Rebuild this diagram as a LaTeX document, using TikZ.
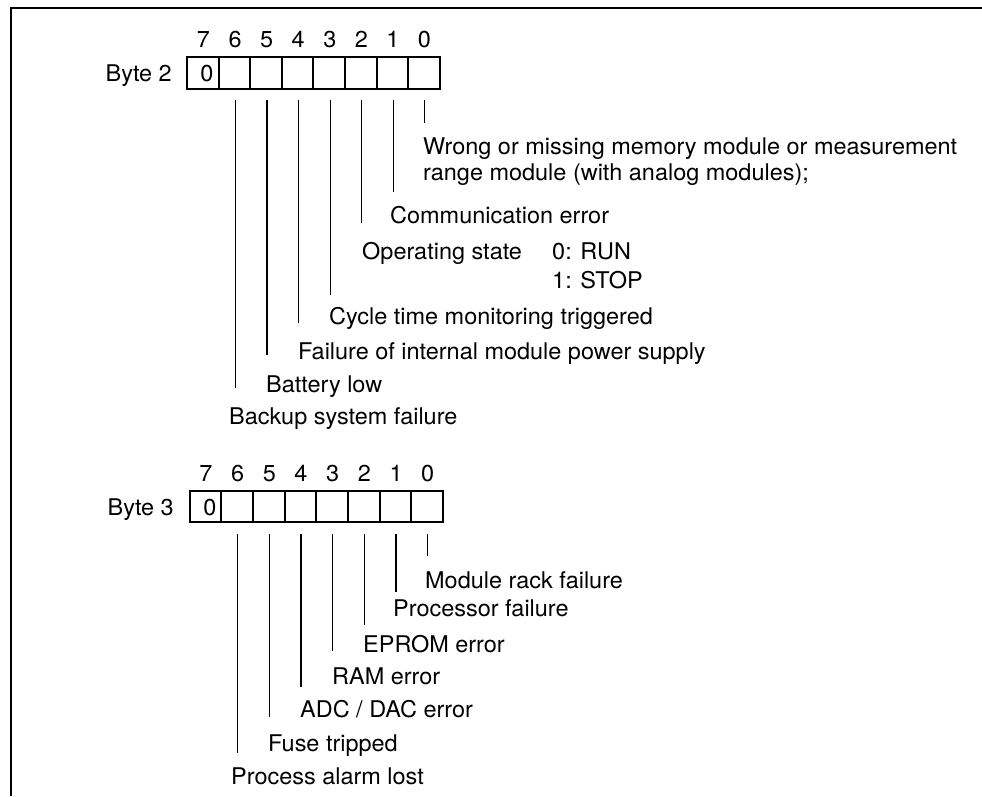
\documentclass[tikz,border=0pt]{standalone}
\usepackage{fontspec}
\setmainfont{TeX Gyre Heros}[FakeStretch=1.02]
\begin{document}
\begin{tikzpicture}[x=1pt,y=-1pt,
  txt/.style={anchor=base west,inner sep=0pt,font=\fontsize{23}{27}\selectfont},
  num/.style={anchor=base,inner sep=0pt,font=\fontsize{23}{27}\selectfont},
  lbl/.style={anchor=base east,inner sep=0pt,font=\fontsize{23}{27}\selectfont},
  cell/.style={draw,line width=2pt,minimum width=31.6pt,inner sep=0pt,outer sep=0pt},
  tick/.style={line width=1.1pt},
  frame/.style={line width=2pt}]
\useasboundingbox (0,0) rectangle (982,796);
% frame
\coordinate (fl) at (11,796);
\coordinate (fc) at (11,8);
\coordinate (fr) at (982,8);
\draw[frame] (fl) -- (fc) -- (fr);
% ---------- Byte 2 ----------
\foreach \b in {7,...,0}{
  \node[cell,minimum height=32pt] (b2c\b) at ({202.9+(7-\b)*31.57},73) {};
  \node[num] (b2n\b) at ({203.5+(7-\b)*31.57},47) {\b};
}
\node[lbl] (b2lbl) at (172,81) {Byte 2};
\node[num] (b2z) at (207,81) {0};
\foreach \b/\l in {0/34,1/103,2/134,3/206,4/234,5/266,6/299}{
  \draw[tick] ([xshift=1pt,yshift=-11pt]b2c\b.south) -- ([xshift=1pt,yshift=-\l pt]b2c\b.south);
}
\node[txt] (t20a) at (423,154) {Wrong or missing memory module or measurement};
\node[txt] (t20b) at (423,180) {range module (with analog modules);};
\node[txt] (t21) at (390,223) {Communication error};
\node[txt] (t22) at (362,259) {Operating state};
\node[txt] (t22a) at (552,259) {0: RUN};
\node[txt] (t22b) at (552,288) {1: STOP};
\node[txt] (t23) at (329,324) {Cycle time monitoring triggered};
\node[txt] (t24) at (298,359) {Failure of internal module power supply};
\node[txt] (t25) at (266,392) {Battery low};
\node[txt] (t26) at (229,424) {Backup system failure};
% ---------- Byte 3 ----------
\foreach \b in {7,...,0}{
  \node[cell,minimum height=31pt] (b3c\b) at ({205.5+(7-\b)*31.67},506.5) {};
  \node[num] (b3n\b) at ({206+(7-\b)*31.67},481) {\b};
}
\node[lbl] (b3lbl) at (174,515) {Byte 3};
\node[num] (b3z) at (210,515) {0};
\foreach \b/\l in {0/34,1/70,2/103,3/129,4/165,5/195,6/231}{
  \draw[tick] ([xshift=0.5pt,yshift=-12pt]b3c\b.south) -- ([xshift=0.5pt,yshift=-\l pt]b3c\b.south);
}
\node[txt] (t30) at (425,588) {Module rack failure};
\node[txt] (t31) at (393,616) {Processor failure};
\node[txt] (t32) at (363,652) {EPROM error};
\node[txt] (t33) at (332,684) {RAM error};
\node[txt] (t34) at (300,717) {ADC / DAC error};
\node[txt] (t35) at (268,751) {Fuse tripped};
\node[txt] (t36) at (231,784) {Process alarm lost};
\end{tikzpicture}
\end{document}
